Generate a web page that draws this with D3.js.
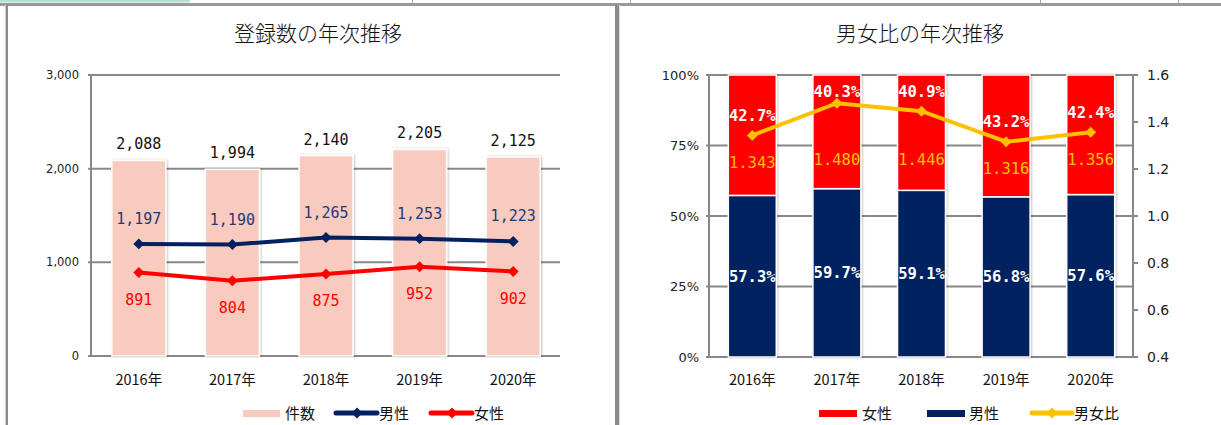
<!DOCTYPE html>
<html>
<head>
<meta charset="utf-8">
<script src="https://cdn.jsdelivr.net/npm/d3@7"></script>
<style>
  body { margin: 0; background: #fff; }
  svg { display: block; font-family: "Noto Sans CJK JP", sans-serif; }
</style>
</head>
<body>
<svg id="chart" width="1221" height="425"></svg>
<script>
const years = ["2016年", "2017年", "2018年", "2019年", "2020年"];
const totals = [2088, 1994, 2140, 2205, 2125];
const male = [1197, 1190, 1265, 1253, 1223];
const female = [891, 804, 875, 952, 902];
const malePct = [57.3, 59.7, 59.1, 56.8, 57.6];
const femalePct = [42.7, 40.3, 40.9, 43.2, 42.4];
const ratio = [1.343, 1.480, 1.446, 1.316, 1.356];
const countTicks = [0, 1000, 2000, 3000];
const pctTicks = [0, 0.25, 0.5, 0.75, 1];
const ratioTicks = [0.4, 0.6, 0.8, 1.0, 1.2, 1.4, 1.6];

const navy = "#002060";
const red = "#ff0000";
const gold = "#ffc000";
const salmon = "#f9cbbe";
const grid = "#888888";
const monoFont = "'DejaVu Sans Mono', monospace";
const tickFont = "'DejaVu Sans', sans-serif";

const svg = d3.select("#chart");

// shadow for bars
const defs = svg.append("defs");
defs.append("filter").attr("id", "shadow")
  .attr("x", "-20%").attr("y", "-20%").attr("width", "140%").attr("height", "140%")
  .append("feDropShadow")
  .attr("dx", 1).attr("dy", 0).attr("stdDeviation", 1.2)
  .attr("flood-color", "#000").attr("flood-opacity", 0.25);

// spreadsheet frame
svg.append("rect").attr("x", 0).attr("y", 0).attr("width", 190).attr("height", 2.5).attr("fill", "#b7e1cd");
svg.append("rect").attr("x", 0).attr("y", 3).attr("width", 1221).attr("height", 3).attr("fill", "#999");
[412, 630, 1040, 1178].forEach(x =>
  svg.append("rect").attr("x", x).attr("y", 0).attr("width", 1).attr("height", 3).attr("fill", "#aaa"));
svg.append("rect").attr("x", 5).attr("y", 5).attr("width", 1).attr("height", 420).attr("fill", "#ccc");
svg.append("rect").attr("x", 6).attr("y", 5).attr("width", 2).attr("height", 420).attr("fill", "#8c8c8c");
svg.append("rect").attr("x", 615).attr("y", 5).attr("width", 4).attr("height", 420).attr("fill", "#8c8c8c");
svg.append("rect").attr("x", 619).attr("y", 5).attr("width", 1).attr("height", 420).attr("fill", "#ddd");

const diamond = d3.symbol(d3.symbolSquare, 60);

function drawMarkers(g, xs, ys, vals, color) {
  g.selectAll(null).data(vals).join("path")
    .attr("d", diamond)
    .attr("transform", (d, i) => `translate(${xs(i)},${ys(d)}) rotate(45)`)
    .attr("fill", color);
}

// ---------------- left chart ----------------
{
  const g = svg.append("g");
  const x = d3.scaleBand().domain(years).range([92, 560]).paddingInner(0.423).paddingOuter(0.2115);
  const y = d3.scaleLinear().domain([0, 3000]).range([356, 75]);
  const cx = i => x(years[i]) + x.bandwidth() / 2;

  g.append("text").attr("x", 318).attr("y", 41).attr("text-anchor", "middle")
    .attr("font-size", 21).attr("font-weight", 300).attr("fill", "#111").text("登録数の年次推移");

  // gridlines
  g.selectAll(".grid").data(countTicks).join("line")
    .attr("x1", 88).attr("x2", 560)
    .attr("y1", d => y(d)).attr("y2", d => y(d))
    .attr("stroke", grid).attr("stroke-width", 2);
  g.append("line").attr("x1", 91).attr("x2", 91).attr("y1", y(3000)).attr("y2", y(0))
    .attr("stroke", grid).attr("stroke-width", 2);

  g.selectAll(".ytick").data(countTicks).join("text")
    .attr("x", 79).attr("y", d => y(d)).attr("dy", "0.35em").attr("text-anchor", "end")
    .attr("font-family", tickFont).attr("font-size", 11.5).attr("fill", "#222")
    .text(d => d3.format(",")(d));

  // bars
  g.selectAll(".bar").data(totals).join("rect")
    .attr("x", (d, i) => x(years[i])).attr("width", x.bandwidth())
    .attr("y", d => y(d)).attr("height", d => y(0) - y(d))
    .attr("fill", salmon).attr("stroke", "#fff").attr("stroke-width", 1.5)
    .attr("filter", "url(#shadow)");

  // x labels
  g.selectAll(".xlab").data(years).join("text")
    .attr("x", (d, i) => cx(i)).attr("y", 385).attr("text-anchor", "middle")
    .attr("font-size", 14.5).attr("fill", "#111").text(d => d);

  // lines
  const line = vals => d3.line().x((d, i) => cx(i)).y(d => y(d))(vals);
  g.append("path").attr("d", line(female)).attr("fill", "none").attr("stroke", red).attr("stroke-width", 4);
  g.append("path").attr("d", line(male)).attr("fill", "none").attr("stroke", navy).attr("stroke-width", 4);
  drawMarkers(g, cx, y, female, red);
  drawMarkers(g, cx, y, male, navy);

  // labels
  g.selectAll(".tlab").data(totals).join("text")
    .attr("x", (d, i) => cx(i)).attr("y", d => y(d) - 11).attr("text-anchor", "middle")
    .attr("font-family", monoFont).attr("font-size", 15).attr("fill", "#111")
    .text(d => d3.format(",")(d));
  g.selectAll(".mlab").data(male).join("text")
    .attr("x", (d, i) => cx(i)).attr("y", d => y(d) - 20).attr("text-anchor", "middle")
    .attr("font-family", monoFont).attr("font-size", 15).attr("fill", "#1f3a78")
    .text(d => d3.format(",")(d));
  g.selectAll(".flab").data(female).join("text")
    .attr("x", (d, i) => cx(i)).attr("y", d => y(d) + 32).attr("text-anchor", "middle")
    .attr("font-family", monoFont).attr("font-size", 15).attr("fill", red)
    .text(d => d3.format(",")(d));

  // legend
  const lg = g.append("g").attr("font-size", 15).attr("fill", "#111");
  lg.append("rect").attr("x", 243).attr("y", 410).attr("width", 37).attr("height", 7).attr("fill", salmon);
  lg.append("text").attr("x", 285).attr("y", 414).attr("dy", "0.35em").text("件数");
  lg.append("line").attr("x1", 336).attr("x2", 377).attr("y1", 413).attr("y2", 413)
    .attr("stroke", navy).attr("stroke-width", 5).attr("stroke-linecap", "round");
  lg.append("path").attr("d", diamond).attr("transform", "translate(357,413) rotate(45)").attr("fill", navy);
  lg.append("text").attr("x", 379).attr("y", 414).attr("dy", "0.35em").text("男性");
  lg.append("line").attr("x1", 431).attr("x2", 472).attr("y1", 413).attr("y2", 413)
    .attr("stroke", red).attr("stroke-width", 5).attr("stroke-linecap", "round");
  lg.append("path").attr("d", diamond).attr("transform", "translate(452,413) rotate(45)").attr("fill", red);
  lg.append("text").attr("x", 474).attr("y", 414).attr("dy", "0.35em").text("女性");
}

// ---------------- right chart ----------------
{
  const g = svg.append("g");
  const x = d3.scaleBand().domain(years).range([710, 1133]).paddingInner(0.433).paddingOuter(0.2165);
  const y = d3.scaleLinear().domain([0, 1]).range([357, 75]);
  const y2 = d3.scaleLinear().domain([0.4, 1.6]).range([357, 75]);
  const cx = i => x(years[i]) + x.bandwidth() / 2;

  g.append("text").attr("x", 920).attr("y", 41).attr("text-anchor", "middle")
    .attr("font-size", 21).attr("font-weight", 300).attr("fill", "#111").text("男女比の年次推移");

  g.selectAll(".grid").data(pctTicks).join("line")
    .attr("x1", 706).attr("x2", 1133)
    .attr("y1", d => y(d)).attr("y2", d => y(d))
    .attr("stroke", grid).attr("stroke-width", 2);
  g.append("line").attr("x1", 709).attr("x2", 709).attr("y1", y(1)).attr("y2", y(0))
    .attr("stroke", grid).attr("stroke-width", 2);
  g.append("line").attr("x1", 1133).attr("x2", 1133).attr("y1", y(1)).attr("y2", y(0))
    .attr("stroke", grid).attr("stroke-width", 2);
  g.selectAll(".rtick").data(ratioTicks).join("line")
    .attr("x1", 1133).attr("x2", 1138)
    .attr("y1", d => y2(d)).attr("y2", d => y2(d))
    .attr("stroke", grid).attr("stroke-width", 2);

  g.selectAll(".ytick").data(pctTicks).join("text")
    .attr("x", 699).attr("y", d => y(d)).attr("dy", "0.35em").attr("text-anchor", "end")
    .attr("font-family", tickFont).attr("font-size", 13).attr("fill", "#222")
    .text(d => d3.format(".0%")(d));
  g.selectAll(".y2tick").data(ratioTicks).join("text")
    .attr("x", 1147).attr("y", d => y2(d)).attr("dy", "0.35em")
    .attr("font-family", tickFont).attr("font-size", 14).attr("fill", "#222")
    .text(d => d3.format(".1f")(d));

  // stacked bars
  const rows = years.map((yr, i) => ({ year: yr, male: malePct[i] / 100, female: femalePct[i] / 100 }));
  const stack = d3.stack().keys(["male", "female"])(rows);
  const colors = { male: navy, female: red };
  stack.forEach(layer => {
    g.selectAll(null).data(layer).join("rect")
      .attr("x", d => x(d.data.year)).attr("width", x.bandwidth())
      .attr("y", d => y(d[1])).attr("height", d => y(d[0]) - y(d[1]))
      .attr("fill", colors[layer.key]).attr("stroke", "#fff").attr("stroke-width", 1.5)
      .attr("filter", "url(#shadow)");
  });

  g.selectAll(".xlab").data(years).join("text")
    .attr("x", (d, i) => cx(i)).attr("y", 385).attr("text-anchor", "middle")
    .attr("font-size", 14.5).attr("fill", "#111").text(d => d);

  // ratio line
  const line = d3.line().x((d, i) => cx(i)).y(d => y2(d));
  g.append("path").attr("d", line(ratio)).attr("fill", "none").attr("stroke", gold).attr("stroke-width", 4);
  drawMarkers(g, cx, y2, ratio, gold);

  // labels
  g.selectAll(".mp").data(stack[0]).join("text")
    .attr("x", (d, i) => cx(i)).attr("y", d => (y(d[0]) + y(d[1])) / 2).attr("dy", "0.35em")
    .attr("text-anchor", "middle").attr("font-family", monoFont).attr("font-weight", "bold")
    .attr("font-size", 15.5).attr("fill", "#fff")
    .text((d, i) => malePct[i].toFixed(1) + "%");
  g.selectAll(".fp").data(femalePct).join("text")
    .attr("x", (d, i) => cx(i)).attr("y", (d, i) => Math.max(y2(ratio[i]) - 20, y(1) + 17)).attr("dy", "0.35em")
    .attr("text-anchor", "middle").attr("font-family", monoFont).attr("font-weight", "bold")
    .attr("font-size", 15.5).attr("fill", "#fff")
    .text(d => d.toFixed(1) + "%");
  g.selectAll(".rl").data(ratio).join("text")
    .attr("x", (d, i) => cx(i)).attr("y", d => Math.max(y2(d) + 27, 160)).attr("dy", "0.35em")
    .attr("text-anchor", "middle").attr("font-family", monoFont)
    .attr("font-size", 15.5).attr("fill", gold)
    .text(d => d.toFixed(3));

  // legend
  const lg = g.append("g").attr("font-size", 15).attr("fill", "#111");
  lg.append("rect").attr("x", 819).attr("y", 410).attr("width", 38).attr("height", 7).attr("fill", red);
  lg.append("text").attr("x", 862).attr("y", 414).attr("dy", "0.35em").text("女性");
  lg.append("rect").attr("x", 927).attr("y", 410).attr("width", 38).attr("height", 7).attr("fill", navy);
  lg.append("text").attr("x", 969).attr("y", 414).attr("dy", "0.35em").text("男性");
  lg.append("line").attr("x1", 1032).attr("x2", 1072).attr("y1", 413).attr("y2", 413)
    .attr("stroke", gold).attr("stroke-width", 5).attr("stroke-linecap", "round");
  lg.append("path").attr("d", diamond).attr("transform", "translate(1052,413) rotate(45)").attr("fill", gold);
  lg.append("text").attr("x", 1074).attr("y", 414).attr("dy", "0.35em").text("男女比");
}
</script>
</body>
</html>
